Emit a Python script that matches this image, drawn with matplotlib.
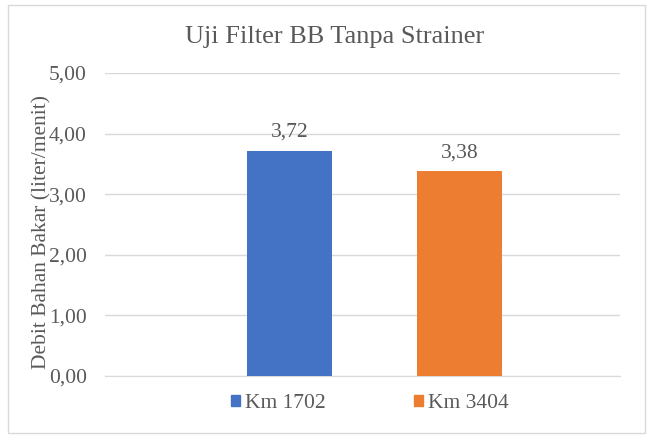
import matplotlib
matplotlib.use("Agg")
import matplotlib.pyplot as plt
from matplotlib.patches import Rectangle, Patch

series = ["Km 1702", "Km 3404"]
values = [3.72, 3.38]
colors = ["#4472C4", "#ED7D31"]
yticks = [0, 1, 2, 3, 4, 5]
title = "Uji Filter BB Tanpa Strainer"
ylabel = "Debit Bahan Bakar (liter/menit)"

plt.rcParams['font.family'] = ['Liberation Serif', 'DejaVu Serif']
txt = "#595959"
fs = 15.5

fig = plt.figure(figsize=(6.47, 4.36), dpi=100)
fig.patches.append(Rectangle((8/647, 1-433/436), 637/647, 428/436, transform=fig.transFigure,
                             fill=False, edgecolor="#D9D9D9", linewidth=1))
ax = fig.add_axes([105/647, 1-376/436, 515/647, 303/436])

x = list(range(len(series)))
ax.bar(x, values, width=0.5, color=colors, zorder=3)
for xi, v in zip(x, values):
    ax.text(xi, v + 0.23, f"{v:.2f}".replace(".", ","), ha="center", va="baseline",
            fontsize=fs, color=txt, zorder=4)

ax.set_xlim(-1.085, 1.944)
ax.set_ylim(0, 5)
ax.set_yticks(yticks)
ax.set_yticklabels([f"{t:.2f}".replace(".", ",") for t in yticks], fontsize=fs, color=txt)
ax.set_xticks([])
ax.grid(axis="y", color="#D9D9D9", linewidth=1, zorder=0)
for s in ["top", "right", "left"]:
    ax.spines[s].set_visible(False)
ax.spines["bottom"].set_color("#D9D9D9")
ax.tick_params(axis="y", length=0, pad=13)

fig.text(42/647, 1-232/436, ylabel, rotation=90, ha="center", va="center",
         fontsize=fs, color=txt)
fig.text(334.5/647, 1-37/436, title, ha="center", va="center", fontsize=19, color=txt)

handles = [Patch(color=c, label=s) for c, s in zip(colors, series)]
fig.legend(handles=handles, loc="center", bbox_to_anchor=(370/647, 1-403.5/436), ncol=2,
           frameon=False, fontsize=fs, handlelength=0.42, handleheight=0.42,
           handletextpad=0.23, columnspacing=4.1, labelcolor=txt,
           borderpad=0, borderaxespad=0)

fig.savefig("out.png", dpi=100)
